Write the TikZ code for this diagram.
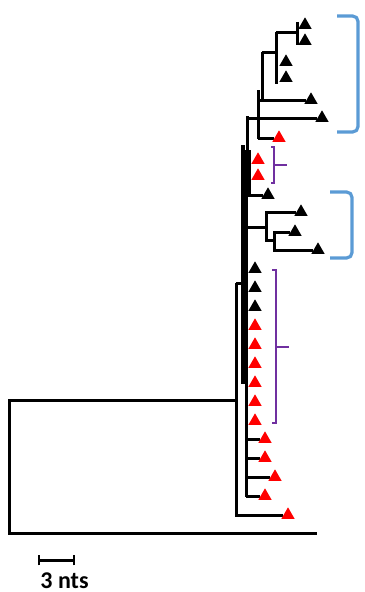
\documentclass[tikz,border=0pt]{standalone}
\usepackage{fontspec}
\setmainfont{Carlito}
\usetikzlibrary{shapes.geometric,backgrounds}
\definecolor{cladeblue}{HTML}{5B9BD5}
\definecolor{cladepurple}{HTML}{7030A0}
\begin{document}
\begin{tikzpicture}[x=0.75pt,y=-0.75pt,
  branch/.style={line width=2.25pt,line join=miter},
  trunk/.style={line width=2.9pt},
  tipmark/.style={regular polygon,regular polygon sides=3,minimum size=11.5pt,
    inner sep=0pt,fill=#1},
  tipmark/.default=black,
  bluebracket/.style={cladeblue,line width=2.4pt,rounded corners=4pt},
  purplebracket/.style={cladepurple,line width=1.5pt}]
\useasboundingbox (0,0) rectangle (364,592);

% ---- leaves ----
\node[tipmark] (t1) at (305,25) {};
\node[tipmark] (t2) at (305,41) {};
\node[tipmark] (t3) at (286,62) {};
\node[tipmark] (t4) at (286,78) {};
\node[tipmark] (t5) at (311,100) {};
\node[tipmark] (t6) at (322,118) {};
\node[tipmark=red] (t7) at (279,138) {};
\node[tipmark=red] (t8) at (258,160) {};
\node[tipmark=red] (t9) at (258,176) {};
\node[tipmark] (t10) at (268,195) {};
\node[tipmark] (t11) at (301,212) {};
\node[tipmark] (t12) at (295,232) {};
\node[tipmark] (t13) at (318,250) {};
\foreach \i/\y/\c in {14/269/black,15/288/black,16/307/black,17/326/red,
    18/345/red,19/364/red,20/383/red,21/402/red,22/421/red}
  \node[tipmark=\c] (t\i) at (255,\y) {};
\node[tipmark=red] (t23) at (265,439) {};
\node[tipmark=red] (t24) at (265,458) {};
\node[tipmark=red] (t25) at (275,477) {};
\node[tipmark=red] (t26) at (265,496) {};
\node[tipmark=red] (t27) at (288,515) {};

% ---- internal nodes ----
\coordinate (root) at (9,400);
\coordinate (out) at (317,533);
\coordinate (ing) at (236,400);
\coordinate (nA) at (297,33);
\coordinate (nB) at (276,53);
\coordinate (nC) at (262,53);
\coordinate (nE) at (266,227);
\coordinate (nF) at (274,240);

\begin{scope}[on background layer]
  % root and outgroup
  \draw[branch] (ing) -- (root) |- (out);
  \draw[branch] (236,283) -- (236,515) -- (t27);
  \draw[branch] (236,283) -- (246,283);
  % main backbone
  \draw[trunk] (243,145) -- (243,384);
  \draw[branch] (246,150) -- (246,497);
  \draw[branch] (247,116) -- (247,160);
  % leaves 23-26
  \draw[branch] (246,439) -- (t23);
  \draw[branch] (246,458) -- (t24);
  \draw[branch] (246,477) -- (t25);
  \draw[branch] (246,496) -- (t26);
  % upper clade
  \draw[branch] (247,118) -- (t6);
  \draw[branch] (258,90) -- (258,139);
  \draw[branch] (258,100) -- (t5);
  \draw[branch] (258,138) -- (t7);
  \draw[branch] (262,52) -- (262,100);
  \draw[branch] (nC) -- (nB);
  \draw[branch] (276,32) -- (276,84);
  \draw[branch] (276,33) -- (nA);
  \draw[branch] (297,22) -- (297,45);
  % leaves 8-10
  \draw[branch] (249,150) -- (249,195) -- (t10);
  % leaves 11-13
  \draw[branch] (243,227) -- (nE);
  \draw[branch] (t11) -| (nF -| nE) -- (nF);
  \draw[branch] (t12) -| (274,250) -- (t13);
\end{scope}

% ---- clade brackets ----
\draw[bluebracket] (337,16) -- (358,16) -- (358,132) -- (337,132);
\draw[bluebracket] (330,192) -- (352,192) -- (352,258) -- (330,258);
\draw[purplebracket] (271,147) -- (274,147) -- (274,183) -- (271,183);
\draw[purplebracket] (274,165) -- (287,165);
\draw[purplebracket] (272,270) -- (276,270) -- (276,423) -- (272,423);
\draw[purplebracket] (276,347) -- (289,347);

% ---- scale bar ----
\coordinate (sbl) at (39,560);
\coordinate (sbr) at (74,560);
\draw[line width=2.25pt] (sbl) -- (sbr);
\draw[line width=1.8pt] ([yshift=-4]sbl) -- ([yshift=4]sbl);
\draw[line width=1.8pt] ([yshift=-4]sbr) -- ([yshift=4]sbr);
\node[anchor=base,inner sep=0pt,font=\bfseries\fontsize{18}{20}\selectfont]
  (sblabel) at (64.5,588) {3 nts};
\end{tikzpicture}
\end{document}
